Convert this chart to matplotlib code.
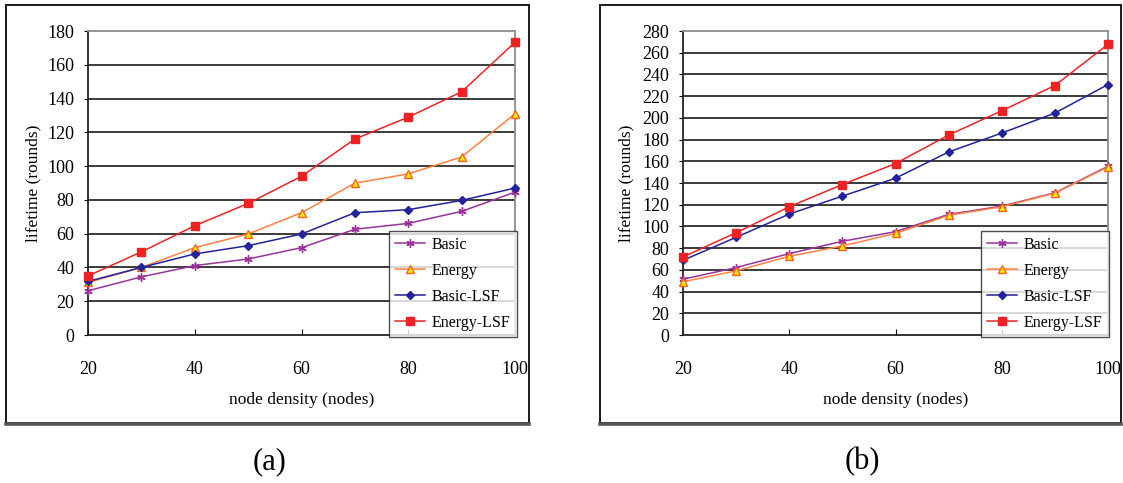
import matplotlib
matplotlib.use("Agg")
from matplotlib import pyplot as plt
from matplotlib.patches import Rectangle
from matplotlib.lines import Line2D

# node density (x axis) shared by both panels
nodes = [20, 30, 40, 50, 60, 70, 80, 90, 100]

# panel (a) lifetimes
a_basic = [26.2, 34.4, 41.1, 45.0, 51.7, 62.6, 66.1, 73.2, 84.6]
a_energy = [31.1, 40.0, 51.7, 59.8, 72.4, 89.9, 95.4, 105.4, 131.0]
a_basic_lsf = [31.7, 40.0, 48.0, 52.9, 59.8, 72.4, 74.2, 79.7, 87.0]
a_energy_lsf = [35.0, 49.2, 64.7, 77.9, 94.0, 116.0, 129.0, 144.0, 173.3]

# panel (b) lifetimes
b_basic = [51.4, 62.1, 75.0, 86.3, 95.2, 111.1, 118.7, 131.0, 155.4]
b_energy = [49.0, 59.1, 72.5, 82.0, 93.6, 110.2, 118.1, 130.7, 154.8]
b_basic_lsf = [68.8, 90.0, 111.4, 127.9, 144.4, 168.6, 186.0, 204.4, 230.7]
b_energy_lsf = [71.9, 94.2, 118.1, 138.6, 157.9, 184.2, 206.5, 229.8, 267.7]

labels = ["Basic", "Energy", "Basic-LSF", "Energy-LSF"]

plt.rcParams["font.family"] = ["Liberation Serif", "DejaVu Serif"]

styles = [
    dict(color="#993399", marker=(6, 2, 0), ms=6, mec="#993399", mew=1.0),
    dict(color="#ff8040", marker="^", ms=6, mfc="#ffee00", mec="#ff6020", mew=1.0),
    dict(color="#22229a", marker="D", ms=4.5, mfc="#22229a", mec="#22229a"),
    dict(color="#ee2222", marker="s", ms=6, mfc="#ee2222", mec="#ee2222"),
]

W, H = 1123, 483
fig = plt.figure(figsize=(W / 100, H / 100), dpi=100)


def px(x0, y0, x1, y1):
    # pixel box (top-left origin) -> figure fraction rect
    return [x0 / W, 1 - y1 / H, (x1 - x0) / W, (y1 - y0) / H]


def panel(rect, series, ymax, legend_corner, ylabel_x):
    ax = fig.add_axes(rect)
    for ys, lab, st in zip(series, labels, styles):
        ax.plot(nodes, ys, label=lab, lw=1.1, clip_on=False, zorder=3, **st)
    ax.set_xlim(20, 100)
    ax.set_ylim(0, ymax)
    ax.set_xticks([20, 40, 60, 80, 100])
    ax.set_yticks(range(0, ymax + 1, 20))
    for y in range(20, ymax, 20):
        ax.axhline(y, color="#1a1a1a", lw=1.2, zorder=1)
    ax.spines["left"].set_color("#222222")
    ax.spines["bottom"].set_color("#222222")
    ax.spines["top"].set_color("#8c8c8c")
    ax.spines["right"].set_color("#8c8c8c")
    for s in ax.spines.values():
        s.set_linewidth(1.3)
    ax.tick_params(axis="x", direction="in", length=4, pad=19, labelsize=13)
    ax.tick_params(axis="y", direction="out", length=3, pad=7, labelsize=13)
    ax.set_xlabel("node density (nodes)", fontsize=12.5, labelpad=10)
    ax.set_ylabel("lifetime (rounds)", fontsize=12.5)
    ax.yaxis.set_label_coords(ylabel_x, 0.5)
    leg = ax.legend(loc="lower right", bbox_to_anchor=legend_corner,
                    bbox_transform=fig.transFigure, fontsize=11.5,
                    frameon=True, fancybox=False, edgecolor="#222222",
                    handlelength=1.9, handletextpad=0.4, labelspacing=0.62,
                    borderpad=0.4, borderaxespad=0)
    leg.get_frame().set_linewidth(1.0)
    leg.set_zorder(5)
    return ax


panel(px(88, 31, 515, 335), [a_basic, a_energy, a_basic_lsf, a_energy_lsf],
      180, (517 / W, 1 - 337 / H), -0.11)
panel(px(683, 31, 1108, 335), [b_basic, b_energy, b_basic_lsf, b_energy_lsf],
      280, (1109 / W, 1 - 337 / H), -0.115)

# outer frames around each panel
for x0, x1 in [(6, 529), (600, 1121)]:
    fig.patches.append(Rectangle((x0 / W, 1 - 423 / H), (x1 - x0) / W, (423 - 4.5) / H,
                                 transform=fig.transFigure, fill=False,
                                 edgecolor="#1a1a1a", lw=1.4))
    fig.lines.append(Line2D([x0 / W, x1 / W], [1 - 423.5 / H] * 2,
                            transform=fig.transFigure, color="#555555", lw=2.6))

fig.text(270 / W, 1 - 462 / H, "(a)", ha="center", va="center", fontsize=22)
fig.text(862 / W, 1 - 462 / H, "(b)", ha="center", va="center", fontsize=22)

fig.savefig("out.png", dpi=100)
